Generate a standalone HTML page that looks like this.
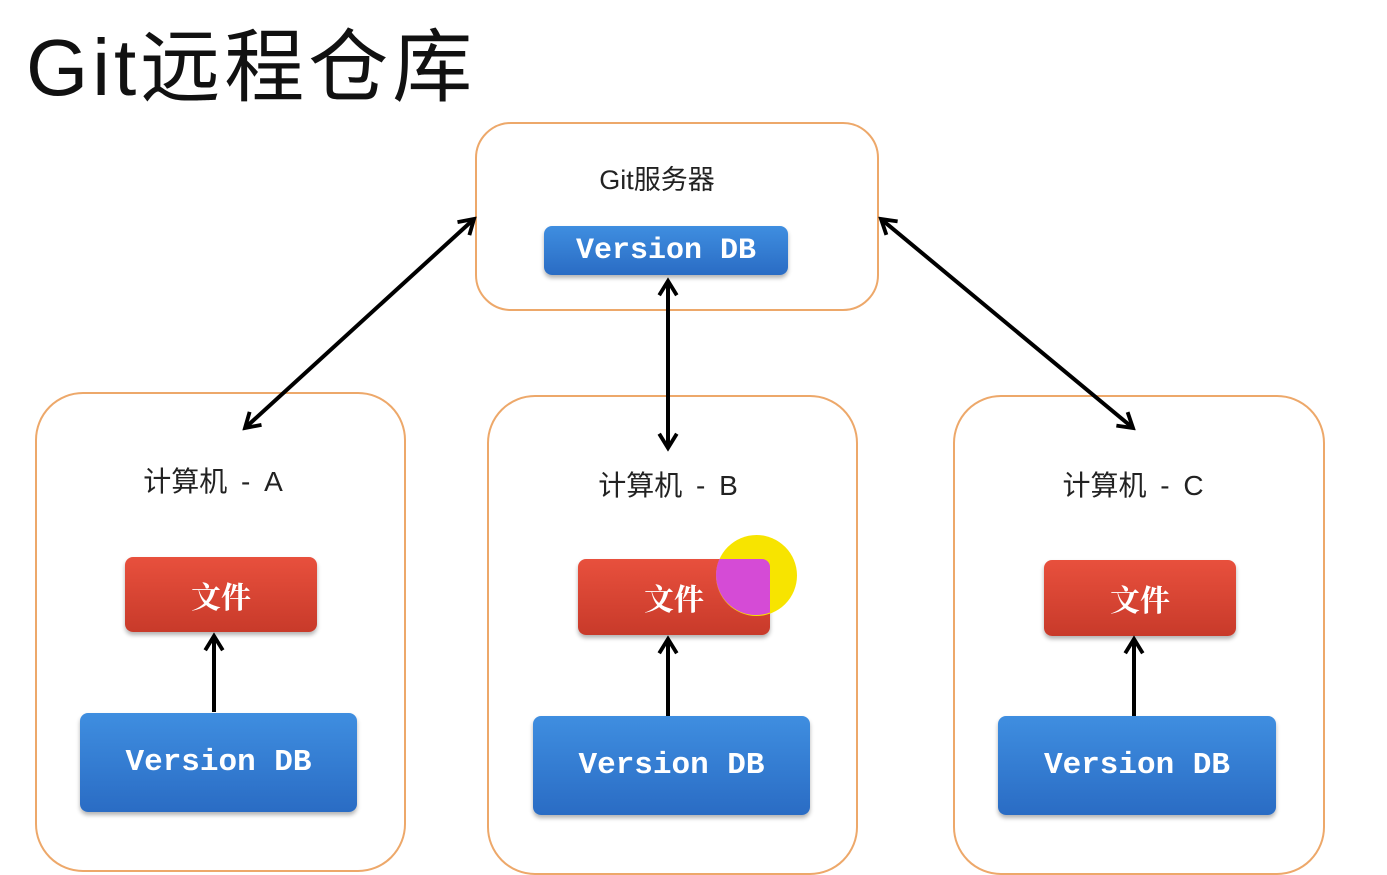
<!DOCTYPE html>
<html><head><meta charset="utf-8"><style>
body{margin:0;width:1387px;height:833px;overflow:hidden;background:#fff;font-family:"Liberation Sans","Noto Sans CJK SC",sans-serif;position:relative}
.a{position:absolute}
.box{position:absolute;border:2.5px solid #eda86a;border-radius:48px;background:#fff;box-sizing:border-box}
.db{position:absolute;border-radius:8px;background:linear-gradient(#3f8ee0,#2a6cc4);color:#fff;font-family:"Liberation Mono","Noto Serif CJK SC",monospace;font-weight:bold;display:flex;align-items:center;justify-content:center;box-shadow:0 3px 4px rgba(0,0,0,.3);box-sizing:border-box}
.file{position:absolute;border-radius:8px;background:linear-gradient(#e8503d,#c83a2a);color:#fff;font-family:"Noto Serif CJK SC",serif;font-weight:bold;font-size:30px;display:flex;align-items:center;justify-content:center;box-shadow:0 3px 4px rgba(0,0,0,.3)}
.lbl{position:absolute;font-size:28px;color:#222;text-align:center;width:300px;word-spacing:6px}
</style></head><body>
<div class="a" style="left:26px;top:18px;font-size:80px;letter-spacing:4px;color:#111;line-height:100px">Git远程仓库</div>
<div class="box" style="left:475px;top:122px;width:404px;height:189px;border-radius:36px"></div>
<div class="lbl" style="left:507px;top:158px;font-size:27px">Git服务器</div>
<div class="db" style="left:544px;top:226px;width:244px;height:49px;font-size:30px">Version DB</div>

<div class="box" style="left:35px;top:392px;width:371px;height:480px"></div>
<div class="box" style="left:487px;top:395px;width:371px;height:480px"></div>
<div class="box" style="left:953px;top:395px;width:372px;height:480px"></div>

<div class="lbl" style="left:63px;top:460px">计算机 - A</div>
<div class="lbl" style="left:518px;top:464px">计算机 - B</div>
<div class="lbl" style="left:983px;top:464px">计算机 - C</div>

<div class="file" style="left:125px;top:557px;width:192px;height:75px">文件</div>
<div class="file" style="left:578px;top:559px;width:192px;height:76px">文件</div>
<div class="file" style="left:1044px;top:560px;width:192px;height:76px">文件</div>

<div class="a" style="left:716px;top:535px;width:81px;height:81px;border-radius:50%;background:#f7e400"></div>
<div class="a" style="left:716px;top:559px;width:54px;height:57px;border-radius:0 8px 0 0;background:#d54bd6;clip-path:circle(40px at 40px 16px)"></div>

<div class="db" style="left:80px;top:713px;width:277px;height:99px;font-size:31px">Version DB</div>
<div class="db" style="left:533px;top:716px;width:277px;height:99px;font-size:31px">Version DB</div>
<div class="db" style="left:998px;top:716px;width:278px;height:99px;font-size:31px">Version DB</div>

<svg class="a" style="left:0;top:0" width="1387" height="833">
<defs>
<marker id="n" viewBox="0 0 20 20" markerWidth="22" markerHeight="22" refX="17" refY="10" orient="auto-start-reverse" markerUnits="userSpaceOnUse"><path d="M4 2 L17 10 L4 18" fill="none" stroke="#000" stroke-width="3.5"/></marker></defs>
<g stroke="#000" stroke-width="4" fill="none">
<line x1="245" y1="428" x2="474" y2="219" marker-start="url(#n)" marker-end="url(#n)"/>
<line x1="881" y1="219" x2="1133" y2="428" marker-start="url(#n)" marker-end="url(#n)"/>
<line x1="668" y1="281" x2="668" y2="448" marker-start="url(#n)" marker-end="url(#n)"/>
<line x1="214" y1="712" x2="214" y2="636" marker-end="url(#n)"/>
<line x1="668" y1="716" x2="668" y2="639" marker-end="url(#n)"/>
<line x1="1134" y1="716" x2="1134" y2="639" marker-end="url(#n)"/>
</g></svg>
</body></html>
